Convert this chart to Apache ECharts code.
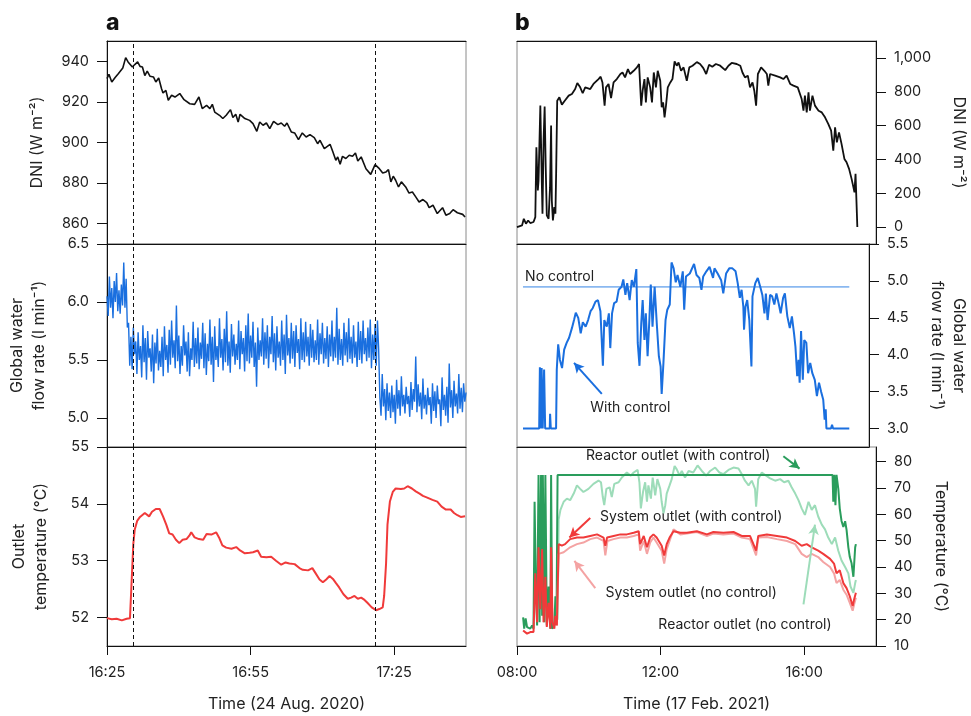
<!DOCTYPE html>
<html><head><meta charset="utf-8">
<script src="https://cdn.jsdelivr.net/npm/echarts@6/dist/echarts.min.js"></script>
<style>html,body{margin:0;padding:0;background:#fff}#c{width:971px;height:716px}</style>
</head><body><div id="c"></div>
<script>
// ---------- Panel a (24 Aug 2020), x = minutes after 16:25 ----------
const xTicksA = [0, 30, 60];
const xLabelsA = ['16:25', '16:55', '17:25'];
const eventLinesA = [5.5, 56.1];
const dniA = [[0,931.5],[0.4,933.6],[1.0,929.8],[1.7,932],[2.4,934],[3.3,936.7],[3.9,941.8],[4.4,939.7],[5.3,937.2],[5.8,938.4],[6.4,939.7],[6.9,937.5],[7.4,937.2],[7.9,933],[8.4,935.2],[9.0,932.6],[9.7,932.3],[10.2,929.8],[10.8,931.8],[11.4,926.5],[11.7,924.4],[12.3,925.7],[12.8,920.8],[13.5,923.3],[14.2,922.4],[15.2,924.1],[16.1,921.1],[17.3,919.1],[18.3,918.8],[19.2,922.4],[19.9,916.7],[20.8,918.3],[21.5,916.7],[22.0,918.8],[22.5,915],[23.5,913.4],[24.2,911.8],[24.9,913.4],[25.8,916.2],[26.3,912.3],[26.9,913.9],[27.4,910.1],[27.8,913.9],[28.8,911.8],[29.8,910.9],[30.5,909.3],[31.3,905.5],[31.9,910.1],[32.6,908.5],[33.3,909.6],[34.0,906.8],[34.8,910.4],[35.7,908.8],[36.4,909.6],[37.1,908],[37.6,909.6],[38.5,905.2],[39.2,904.7],[40.0,901.4],[40.8,904.7],[41.6,902.7],[42.4,903.9],[43.3,902.4],[44.0,899.4],[44.5,901.1],[45.4,897],[46.6,899.1],[47.2,895.3],[47.8,891.2],[48.2,892.9],[48.7,889.3],[49.2,893.2],[49.9,892.1],[50.6,893.7],[51.3,893.2],[51.9,894.8],[52.4,890.9],[53.1,892.9],[54.1,887.1],[55.1,884.3],[55.5,883.4],[56.0,889.1],[56.9,887.1],[57.6,885],[58.3,885.5],[58.8,886.6],[59.3,880.6],[59.8,883.4],[60.3,881.4],[60.9,878.1],[61.5,880.6],[62.4,878.1],[63.1,875.1],[63.8,875.6],[64.5,873.2],[65.2,870.7],[66.0,871.9],[66.8,870.4],[67.3,867.9],[68.1,869.1],[69.0,865],[70.1,867.9],[70.8,864.2],[71.6,865],[72.3,866.9],[73.2,865.4],[74.3,864.6],[74.8,863.3]];
const flowStepA = 0.25; // sampling interval (min)
const flowA = [
6.05,5.88,6.22,5.95,6.12,5.86,6.18,6.0,6.25,5.92,6.1,5.9,6.15,5.97,6.34,5.95,6.2,5.78,
5.82,5.45,5.7,5.42,5.78,5.55,5.66,5.38,5.74,5.5,
5.62,5.35,5.8,5.48,5.69,5.33,5.75,5.52,5.6,5.4,
5.72,5.3,5.65,5.47,5.77,5.41,5.58,5.44,5.7,5.36,
5.79,5.5,5.63,5.39,5.76,5.46,5.84,5.52,5.67,5.43,
5.97,5.49,5.71,5.38,5.62,5.45,5.8,5.54,5.66,5.4,
5.74,5.36,5.6,5.5,5.83,5.44,5.69,5.47,5.78,5.42,
5.65,5.51,5.82,5.43,5.73,5.37,5.64,5.49,5.85,5.46,
5.7,5.31,5.79,5.5,5.62,5.44,5.86,5.52,5.68,5.41,
5.77,5.48,5.92,5.45,5.66,5.39,5.81,5.53,5.72,5.46,
5.64,5.5,5.84,5.42,5.75,5.55,5.69,5.4,5.8,5.49,
5.9,5.47,5.71,5.52,5.83,5.44,5.65,5.27,5.78,5.5,
5.67,5.53,5.86,5.46,5.74,5.51,5.8,5.43,5.7,5.55,
5.88,5.48,5.73,5.41,5.79,5.52,5.66,5.45,5.84,5.5,
5.72,5.38,5.89,5.54,5.69,5.47,5.82,5.51,5.75,5.44,
5.8,5.56,5.68,5.42,5.86,5.5,5.74,5.48,5.83,5.53,
5.7,5.45,5.81,5.52,5.76,5.48,5.67,5.5,5.85,5.46,
5.73,5.55,5.82,5.47,5.69,5.51,5.79,5.44,5.72,5.53,
5.84,5.49,5.7,5.52,5.95,5.46,5.77,5.5,5.68,5.45,
5.82,5.54,5.74,5.48,5.86,5.51,5.7,5.47,5.8,5.52,
5.66,5.44,5.83,5.5,5.75,5.47,5.84,5.55,5.69,5.49,
5.78,5.52,5.85,5.43,5.72,5.5,5.81,5.45,5.84,5.6,
5.18,5.02,5.38,5.1,5.25,4.98,5.3,5.06,5.22,5.0,
5.28,5.05,5.2,4.95,5.33,5.08,5.24,5.02,5.36,5.1,
5.2,5.04,5.27,5.12,5.19,5.01,5.31,5.07,5.25,5.14,
5.53,5.05,5.29,5.1,5.22,4.99,5.34,5.08,5.2,5.03,
5.26,5.11,5.18,4.95,5.3,5.06,5.23,5.0,5.28,5.12,
5.16,4.93,5.35,5.07,5.2,5.02,5.27,4.96,5.47,5.09,
5.24,5.0,5.32,5.1,5.21,5.04,5.38,5.08,5.26,5.05,
5.3,5.14,5.22];
const tempA = [[0,51.99],[1.0,51.97],[2.0,51.98],[3.1,51.95],[4.1,51.98],[4.8,51.99],[5.1,52.55],[5.5,53.30],[5.8,53.55],[6.3,53.70],[6.9,53.77],[7.9,53.84],[8.8,53.78],[9.4,53.86],[10.2,53.91],[11.0,53.91],[11.7,53.78],[12.4,53.63],[13.0,53.48],[13.7,53.46],[14.4,53.37],[15.1,53.31],[15.8,53.37],[16.6,53.38],[17.2,53.44],[17.6,53.50],[18.3,53.41],[19.2,53.38],[20.1,53.37],[20.8,53.47],[21.8,53.46],[22.8,53.50],[23.4,53.41],[24.1,53.27],[24.9,53.23],[26.0,53.21],[27.0,53.24],[27.8,53.18],[28.8,53.13],[29.8,53.14],[30.5,53.15],[31.5,53.18],[32.2,53.07],[33.3,53.06],[34.3,53.07],[35.3,53.00],[36.4,52.93],[37.3,52.97],[38.1,52.95],[39.2,52.94],[40.2,52.87],[40.9,52.84],[42.0,52.83],[42.9,52.87],[43.5,52.79],[44.4,52.67],[45.1,52.62],[45.8,52.67],[46.5,52.73],[47.2,52.68],[47.8,52.61],[48.5,52.53],[49.4,52.41],[50.3,52.33],[51.0,52.35],[51.7,52.38],[52.4,52.33],[53.1,52.35],[53.8,52.31],[54.4,52.26],[55.3,52.18],[56.2,52.13],[56.9,52.15],[57.6,52.18],[57.9,52.38],[58.3,52.95],[58.6,53.64],[59.1,54.04],[59.7,54.21],[60.3,54.27],[61.4,54.26],[62.1,54.27],[62.8,54.31],[63.7,54.27],[64.5,54.22],[65.3,54.18],[66.0,54.14],[66.9,54.11],[68.0,54.07],[69.0,54.04],[69.9,53.95],[70.8,53.90],[71.8,53.90],[72.5,53.84],[73.2,53.80],[73.9,53.77],[74.8,53.78]];

// ---------- Panel b (17 Feb 2021), x = hour of day ----------
const xTicksB = [8, 12, 16];
const dniB = [[8.00,0],[8.14,10],[8.19,49],[8.25,20],[8.31,39],[8.37,24],[8.46,30],[8.51,59],[8.54,472],[8.58,216],[8.60,275],[8.65,718],[8.69,275],[8.71,79],[8.74,511],[8.77,712],[8.80,354],[8.83,69],[8.88,49],[8.92,236],[8.95,600],[8.97,157],[9.00,39],[9.04,118],[9.07,79],[9.09,315],[9.12,747],[9.18,767],[9.25,724],[9.33,747],[9.44,777],[9.53,787],[9.62,816],[9.68,852],[9.76,826],[9.83,791],[9.90,826],[10.04,816],[10.13,846],[10.27,875],[10.33,889],[10.38,855],[10.44,718],[10.48,826],[10.55,846],[10.62,763],[10.69,855],[10.78,875],[10.88,905],[10.94,914],[11.01,885],[11.09,934],[11.15,905],[11.25,924],[11.34,944],[11.40,964],[11.46,718],[11.50,806],[11.55,875],[11.59,737],[11.64,885],[11.71,826],[11.76,737],[11.81,914],[11.87,826],[11.92,924],[11.99,865],[12.03,708],[12.07,737],[12.11,649],[12.15,718],[12.20,826],[12.27,855],[12.33,875],[12.39,979],[12.45,954],[12.50,973],[12.57,924],[12.64,944],[12.73,865],[12.80,944],[12.89,954],[13.01,975],[13.10,964],[13.19,940],[13.27,905],[13.35,960],[13.44,948],[13.54,964],[13.66,954],[13.80,928],[13.89,954],[13.98,970],[14.12,964],[14.22,954],[14.28,914],[14.35,885],[14.43,895],[14.49,826],[14.56,855],[14.61,806],[14.66,718],[14.71,905],[14.80,944],[14.89,924],[14.96,905],[15.00,836],[15.05,905],[15.19,895],[15.33,885],[15.42,875],[15.51,895],[15.61,846],[15.70,836],[15.82,826],[15.93,757],[15.98,688],[16.02,777],[16.07,678],[16.12,796],[16.16,688],[16.23,777],[16.30,718],[16.40,688],[16.49,678],[16.58,649],[16.67,610],[16.75,570],[16.81,452],[16.86,590],[16.91,501],[16.97,560],[17.04,492],[17.12,403],[17.18,383],[17.25,344],[17.32,285],[17.37,236],[17.40,206],[17.43,315],[17.46,305],[17.48,0]];
const flowCtrlB = [[8.17,3.0],[8.63,3.0],[8.65,3.83],[8.68,3.0],[8.70,3.82],[8.73,3.0],[8.77,3.80],[8.80,3.0],[8.93,3.0],[8.94,3.2],[8.96,3.0],[9.11,3.0],[9.13,3.80],[9.17,4.14],[9.22,3.93],[9.28,3.82],[9.34,4.07],[9.41,4.16],[9.48,4.23],[9.56,4.36],[9.62,4.47],[9.67,4.57],[9.74,4.50],[9.81,4.29],[9.87,4.44],[9.95,4.38],[10.02,4.47],[10.09,4.59],[10.15,4.63],[10.23,4.72],[10.30,4.74],[10.37,4.59],[10.44,3.85],[10.48,4.47],[10.55,4.38],[10.61,4.56],[10.65,4.09],[10.70,4.56],[10.76,4.70],[10.83,4.72],[10.89,4.88],[10.97,4.92],[11.02,5.02],[11.08,4.81],[11.13,4.97],[11.20,4.74],[11.26,5.01],[11.32,4.92],[11.39,5.16],[11.43,4.16],[11.48,3.85],[11.53,4.43],[11.57,4.74],[11.62,4.20],[11.66,4.56],[11.71,3.98],[11.76,4.47],[11.80,4.95],[11.85,4.38],[11.91,4.92],[11.97,4.43],[12.03,3.98],[12.08,3.84],[12.11,3.47],[12.16,3.89],[12.22,4.47],[12.27,4.61],[12.34,4.68],[12.39,5.25],[12.45,5.17],[12.51,4.98],[12.56,5.08],[12.64,4.92],[12.71,5.13],[12.75,4.61],[12.80,5.06],[12.91,5.10],[13.03,5.23],[13.10,5.08],[13.18,5.04],[13.24,4.88],[13.29,5.06],[13.38,5.13],[13.47,5.19],[13.57,5.04],[13.61,5.17],[13.70,5.10],[13.80,5.01],[13.86,4.83],[13.94,5.10],[14.03,5.17],[14.12,5.17],[14.21,5.13],[14.27,4.97],[14.33,4.77],[14.38,4.88],[14.43,4.65],[14.45,4.34],[14.49,4.65],[14.54,4.74],[14.60,4.47],[14.66,3.84],[14.69,4.79],[14.77,4.97],[14.84,5.04],[14.91,4.92],[14.97,4.81],[15.03,4.56],[15.07,4.83],[15.12,4.47],[15.19,4.81],[15.25,4.79],[15.31,4.68],[15.37,4.83],[15.44,4.68],[15.49,4.56],[15.56,4.77],[15.61,4.83],[15.68,4.52],[15.75,4.36],[15.81,4.52],[15.87,4.29],[15.91,4.11],[15.96,3.71],[16.00,3.93],[16.03,3.62],[16.07,4.32],[16.12,3.66],[16.16,4.20],[16.22,4.16],[16.27,3.75],[16.33,3.89],[16.39,3.75],[16.46,3.66],[16.52,3.44],[16.58,3.62],[16.64,3.50],[16.70,3.39],[16.74,3.12],[16.77,3.26],[16.79,3.0],[16.92,3.0],[16.95,3.05],[16.98,3.0],[17.44,3.0]];
const flowNoCtrlB = [[8.17,4.92],[17.44,4.92]];
const reactorCtrlB = [[8.17,20.9],[8.20,16.6],[8.24,20.5],[8.28,17.2],[8.32,17.8],[8.37,16.6],[8.42,17.8],[8.46,16.6],[8.49,64.8],[8.52,37.6],[8.56,17.8],[8.60,75],[8.63,19.0],[8.67,75],[8.70,21.5],[8.72,75],[8.76,19.0],[8.79,75],[8.83,17.8],[8.88,32.6],[8.93,16.6],[8.95,75],[8.98,16.6],[9.04,17.8],[9.07,28.9],[9.10,19.0],[9.13,75],[16.79,75],[16.81,64.8],[16.84,75],[16.87,63.5],[16.90,75],[16.95,69.7],[16.99,62.3],[17.04,57.5],[17.09,55.2],[17.14,57.4],[17.18,54.1],[17.23,47.5],[17.27,43.8],[17.32,41.4],[17.37,36.3],[17.42,47.5],[17.44,48.7]];
const reactorNoCtrlB = [[9.13,20.0],[9.16,58.0],[9.21,61.7],[9.30,64.8],[9.39,66.0],[9.48,65.4],[9.58,67.9],[9.67,71.0],[9.76,69.7],[9.85,68.5],[9.99,69.7],[10.13,71.6],[10.27,72.8],[10.34,72.2],[10.39,66.6],[10.43,63.5],[10.49,69.7],[10.58,70.3],[10.64,66.6],[10.71,71.6],[10.83,72.2],[10.92,74.0],[11.06,75.9],[11.17,74.7],[11.25,75.9],[11.36,76.9],[11.41,72.2],[11.45,62.3],[11.51,68.5],[11.57,72.2],[11.62,64.8],[11.66,71.0],[11.73,66.0],[11.78,74.0],[11.85,67.2],[11.91,73.4],[11.99,69.7],[12.03,64.8],[12.08,60.4],[12.13,63.5],[12.17,67.9],[12.25,71.0],[12.31,73.4],[12.39,78.4],[12.45,77.1],[12.53,74.7],[12.59,76.5],[12.68,74.0],[12.78,76.5],[12.91,75.9],[13.03,78.6],[13.15,76.5],[13.27,74.7],[13.38,76.5],[13.52,77.8],[13.64,75.9],[13.75,75.3],[13.89,76.9],[14.03,77.8],[14.17,77.4],[14.26,75.3],[14.35,72.8],[14.45,71.0],[14.54,72.8],[14.63,69.7],[14.66,62.9],[14.72,73.4],[14.82,75.9],[14.94,74.7],[15.05,73.7],[15.19,72.8],[15.33,73.4],[15.44,72.2],[15.56,72.8],[15.65,70.3],[15.75,67.9],[15.84,65.4],[15.93,62.3],[16.02,59.8],[16.12,64.8],[16.21,61.7],[16.30,63.5],[16.39,59.2],[16.49,56.1],[16.58,54.3],[16.67,51.2],[16.77,48.7],[16.86,51.2],[16.95,46.2],[17.04,42.5],[17.14,40.0],[17.23,37.6],[17.29,32.6],[17.37,30.2],[17.42,33.9],[17.44,35.1]];
const systemCtrlB = [[8.17,15.9],[8.28,14.7],[8.37,15.3],[8.46,15.3],[8.51,37.6],[8.56,19.0],[8.60,47.5],[8.65,24.0],[8.70,46.8],[8.74,19.0],[8.79,36.3],[8.83,17.2],[8.88,26.4],[8.93,16.6],[8.95,47.5],[8.99,19.0],[9.04,16.6],[9.07,21.5],[9.11,17.8],[9.16,48.7],[9.25,48.1],[9.34,48.7],[9.48,50.6],[9.67,51.2],[9.85,51.2],[10.04,51.8],[10.23,52.4],[10.41,51.2],[10.46,48.1],[10.51,51.2],[10.69,51.8],[10.88,52.4],[11.06,52.4],[11.25,53.0],[11.39,53.6],[11.43,48.7],[11.53,51.8],[11.62,47.5],[11.71,51.2],[11.80,52.4],[11.89,51.2],[12.03,48.1],[12.10,44.4],[12.17,48.7],[12.25,51.2],[12.36,53.6],[12.55,53.0],[12.73,53.0],[13.01,53.6],[13.29,52.4],[13.47,53.3],[13.75,53.0],[14.03,53.3],[14.26,51.8],[14.49,51.8],[14.66,46.2],[14.72,51.8],[14.96,52.4],[15.24,51.8],[15.52,51.2],[15.75,49.9],[15.93,48.1],[16.07,48.7],[16.21,47.5],[16.39,46.2],[16.53,45.0],[16.72,43.1],[16.83,41.3],[16.90,37.6],[16.99,38.8],[17.09,33.9],[17.18,32.0],[17.27,28.9],[17.35,25.2],[17.39,27.7],[17.44,30.2]];
const systemNoCtrlB = [[9.11,17.8],[9.16,45.0],[9.30,45.6],[9.48,47.5],[9.67,48.7],[9.85,49.3],[10.04,50.6],[10.23,51.2],[10.41,49.9],[10.46,44.4],[10.52,49.9],[10.69,50.6],[10.88,51.2],[11.06,51.2],[11.25,51.8],[11.39,52.4],[11.43,46.2],[11.53,49.9],[11.62,45.0],[11.71,49.3],[11.80,51.2],[11.89,49.3],[12.03,46.2],[12.10,41.3],[12.17,46.8],[12.25,49.9],[12.36,54.3],[12.55,52.4],[12.73,52.7],[13.01,53.3],[13.29,51.8],[13.47,52.7],[13.75,52.4],[14.03,52.7],[14.26,51.2],[14.49,50.6],[14.66,44.4],[14.72,51.2],[14.96,51.4],[15.24,50.6],[15.52,49.9],[15.75,48.7],[15.93,45.0],[16.07,43.8],[16.21,45.0],[16.39,43.8],[16.53,41.9],[16.72,40.0],[16.83,37.6],[16.90,33.9],[16.99,35.1],[17.09,31.4],[17.18,29.5],[17.27,26.4],[17.35,23.4],[17.39,25.8],[17.44,28.3]];

// annotations (data coordinates)
const labelsB = [
  {grid:4, x:8.23, y:5.06, text:'No control', align:'left'},
  {grid:4, x:11.22, y:3.28, text:'With control', align:'center'},
  {grid:5, x:12.49, y:82.1, text:'Reactor outlet (with control)', align:'center'},
  {grid:5, x:12.85, y:58.9, text:'System outlet (with control)', align:'center'},
  {grid:5, x:12.85, y:30.1, text:'System outlet (no control)', align:'center'},
  {grid:5, x:14.35, y:17.9, text:'Reactor outlet (no control)', align:'center'}
];
const arrowFlowB = [[[10.41,3.47],[9.62,3.89]]];
const arrowsTempB = [
  {from:[15.42,82.07], to:[15.87,77.4], color:'#2a9d5c'},
  {from:[10.04,58.6], to:[9.46,51.2], color:'#f03a3a'},
  {from:[10.18,32.0], to:[9.60,42.3], color:'#f4a3a3'},
  {from:[15.98,25.8], to:[16.30,56.1], color:'#9ddcb9'}
];

// ---------- styles ----------
const FONT = 'Inter';
const TXT = '#222';
const C = {blue:'#1a6fdf', lblue:'#8ab8f0', red:'#f03a3a', pink:'#f4a3a3', dgreen:'#2a9d5c', lgreen:'#9ddcb9'};
const GT = [41, 244, 447], GH = [203, 203, 204];
const grids = [];
for (let i = 0; i < 3; i++) grids.push({left:107, width:359, top:GT[i], height:GH[i], show:true, borderColor:'#8a8a8a', borderWidth:1, backgroundColor:'transparent'});
for (let i = 0; i < 3; i++) grids.push({left:517, width:359, top:GT[i], height:GH[i], show:true, borderColor:'#8a8a8a', borderWidth:1, backgroundColor:'transparent'});

const lblStyle = {color:TXT, fontFamily:FONT, fontSize:14.5};
const nameStyle = {color:TXT, fontFamily:FONT, fontSize:16, lineHeight:22};

function xAx(grid, side) {
  const isA = grid < 3;
  const bottom = (grid === 2 || grid === 5);
  const ax = {type:'value', gridIndex:grid, position:'bottom',
    min: isA ? 0 : 8, max: isA ? 75 : 18,
    axisLine:{show:true, onZero:false, lineStyle:{color:'#111', width:1}},
    splitLine:{show:false},
    axisTick:{show:bottom, inside:false, length:9, lineStyle:{color:'#111'}, customValues: isA ? xTicksA : xTicksB},
    axisLabel:{show:bottom, margin:19, ...lblStyle, customValues: isA ? xTicksA : xTicksB,
      formatter: v => isA ? xLabelsA[xTicksA.indexOf(v)] : (String(v).padStart(2,'0') + ':00')}
  };
  if (bottom) {
    ax.name = isA ? 'Time (24 Aug. 2020)' : 'Time (17 Feb. 2021)';
    ax.nameLocation = 'middle'; ax.nameGap = 47; ax.nameTextStyle = nameStyle;
  }
  return ax;
}
function topAx(grid) {
  return {type:'value', gridIndex:grid, position:'top', min:0, max:1,
    axisLine:{show:true, onZero:false, lineStyle:{color:'#111', width:1}},
    axisTick:{show:false}, axisLabel:{show:false}, splitLine:{show:false}};
}
function yAx(grid, min, max, ticks, fmt, name, gap) {
  const right = grid >= 3;
  return {type:'value', gridIndex:grid, position: right ? 'right' : 'left', min, max,
    axisLine:{show:true, onZero:false, lineStyle:{color:'#111', width:1}},
    splitLine:{show:false},
    axisTick:{show:true, length:10, lineStyle:{color:'#111'}, customValues:ticks},
    axisLabel:{show:true, margin:18, ...lblStyle, customValues:ticks, formatter:fmt},
    name, nameLocation:'middle', nameGap:gap, nameRotate: right ? -90 : 90,
    nameTextStyle: nameStyle};
}
const f1 = v => v.toFixed(1);
const f0 = v => String(v);
const fK = v => v >= 1000 ? (Math.floor(v/1000) + ',' + String(v%1000).padStart(3,'0')) : String(v);

const xAxes = [0,1,2,3,4,5].map(g => xAx(g)).concat([topAx(0), topAx(3)]);
const yAxes = [
  yAx(0, 850, 950, [860,880,900,920,940], f0, 'DNI (W m\u207B\u00B2)', 59),
  yAx(1, 4.75, 6.5, [5,5.5,6,6.5], f1, 'Global water\nflow rate (l min\u207B\u00B9)', 57),
  yAx(2, 51.5, 55, [52,53,54,55], f0, 'Outlet\ntemperature (\u00B0C)', 55),
  yAx(3, -100, 1100, [0,200,400,600,800,1000], fK, 'DNI (W m\u207B\u00B2)', 72),
  yAx(4, 2.75, 5.5, [3,3.5,4,4.5,5,5.5], f1, 'Global water\nflow rate (l min\u207B\u00B9)', 57),
  yAx(5, 10, 85.6, [10,20,30,40,50,60,70,80], f0, 'Temperature (\u00B0C)', 54)
];

const dashed = {silent:true, symbol:['none','none'], label:{show:false}, emphasis:{disabled:true},
  lineStyle:{type:[4,3], color:'#111', width:1}, data: eventLinesA.map(v => ({xAxis:v}))};

function line(name, grid, data, color, width, extra) {
  return Object.assign({name, type:'line', xAxisIndex:grid, yAxisIndex:grid, data, showSymbol:false, symbol:'none',
    lineStyle:{color, width}, itemStyle:{color}, silent:true, emphasis:{disabled:true}}, extra || {});
}
function arrowML(list) {
  return {silent:true, symbol:['none','arrow'], symbolSize:[8,10], label:{show:false}, emphasis:{disabled:true},
    data: list.map(a => [{coord:a.from, lineStyle:{color:a.color, width:2, type:'solid'}, itemStyle:{color:a.color}}, {coord:a.to}])};
}

const series = [
  line('DNI a', 0, dniA, '#111', 1.6, {markLine:dashed}),
  line('Flow a', 1, flowA.map((v,i) => [i*flowStepA, v]), C.blue, 1.4, {markLine:dashed}),
  line('Outlet a', 2, tempA, C.red, 2, {markLine:dashed}),
  line('DNI b', 3, dniB, '#111', 1.8),
  line('No control', 4, flowNoCtrlB, C.lblue, 1.8),
  line('With control', 4, flowCtrlB, C.blue, 2, {markLine: arrowML(arrowFlowB.map(p => ({from:p[0], to:p[1], color:C.blue})))}),
  line('Reactor no control', 5, reactorNoCtrlB, C.lgreen, 2),
  line('Reactor with control', 5, reactorCtrlB, C.dgreen, 2),
  line('System no control', 5, systemNoCtrlB, C.pink, 2),
  line('System with control', 5, systemCtrlB, C.red, 2, {markLine: arrowML(arrowsTempB)})
];

const chart = echarts.init(document.getElementById('c'), null, {renderer:'canvas'});
chart.setOption({animation:false, backgroundColor:'#fff', grid:grids, xAxis:xAxes, yAxis:yAxes, series});

const g = [
  {type:'text', x:106, y:12, style:{text:'a', fill:'#111', font:'800 23px ' + FONT}},
  {type:'text', x:515, y:12, style:{text:'b', fill:'#111', font:'800 23px ' + FONT}}
];
labelsB.forEach(a => {
  const p = chart.convertToPixel({gridIndex:a.grid}, [a.x, a.y]);
  g.push({type:'text', x:p[0], y:p[1], style:{text:a.text, fill:TXT, font:'14px ' + FONT, textAlign:a.align, textVerticalAlign:'middle'}});
});
chart.setOption({graphic:g});
</script></body></html>
